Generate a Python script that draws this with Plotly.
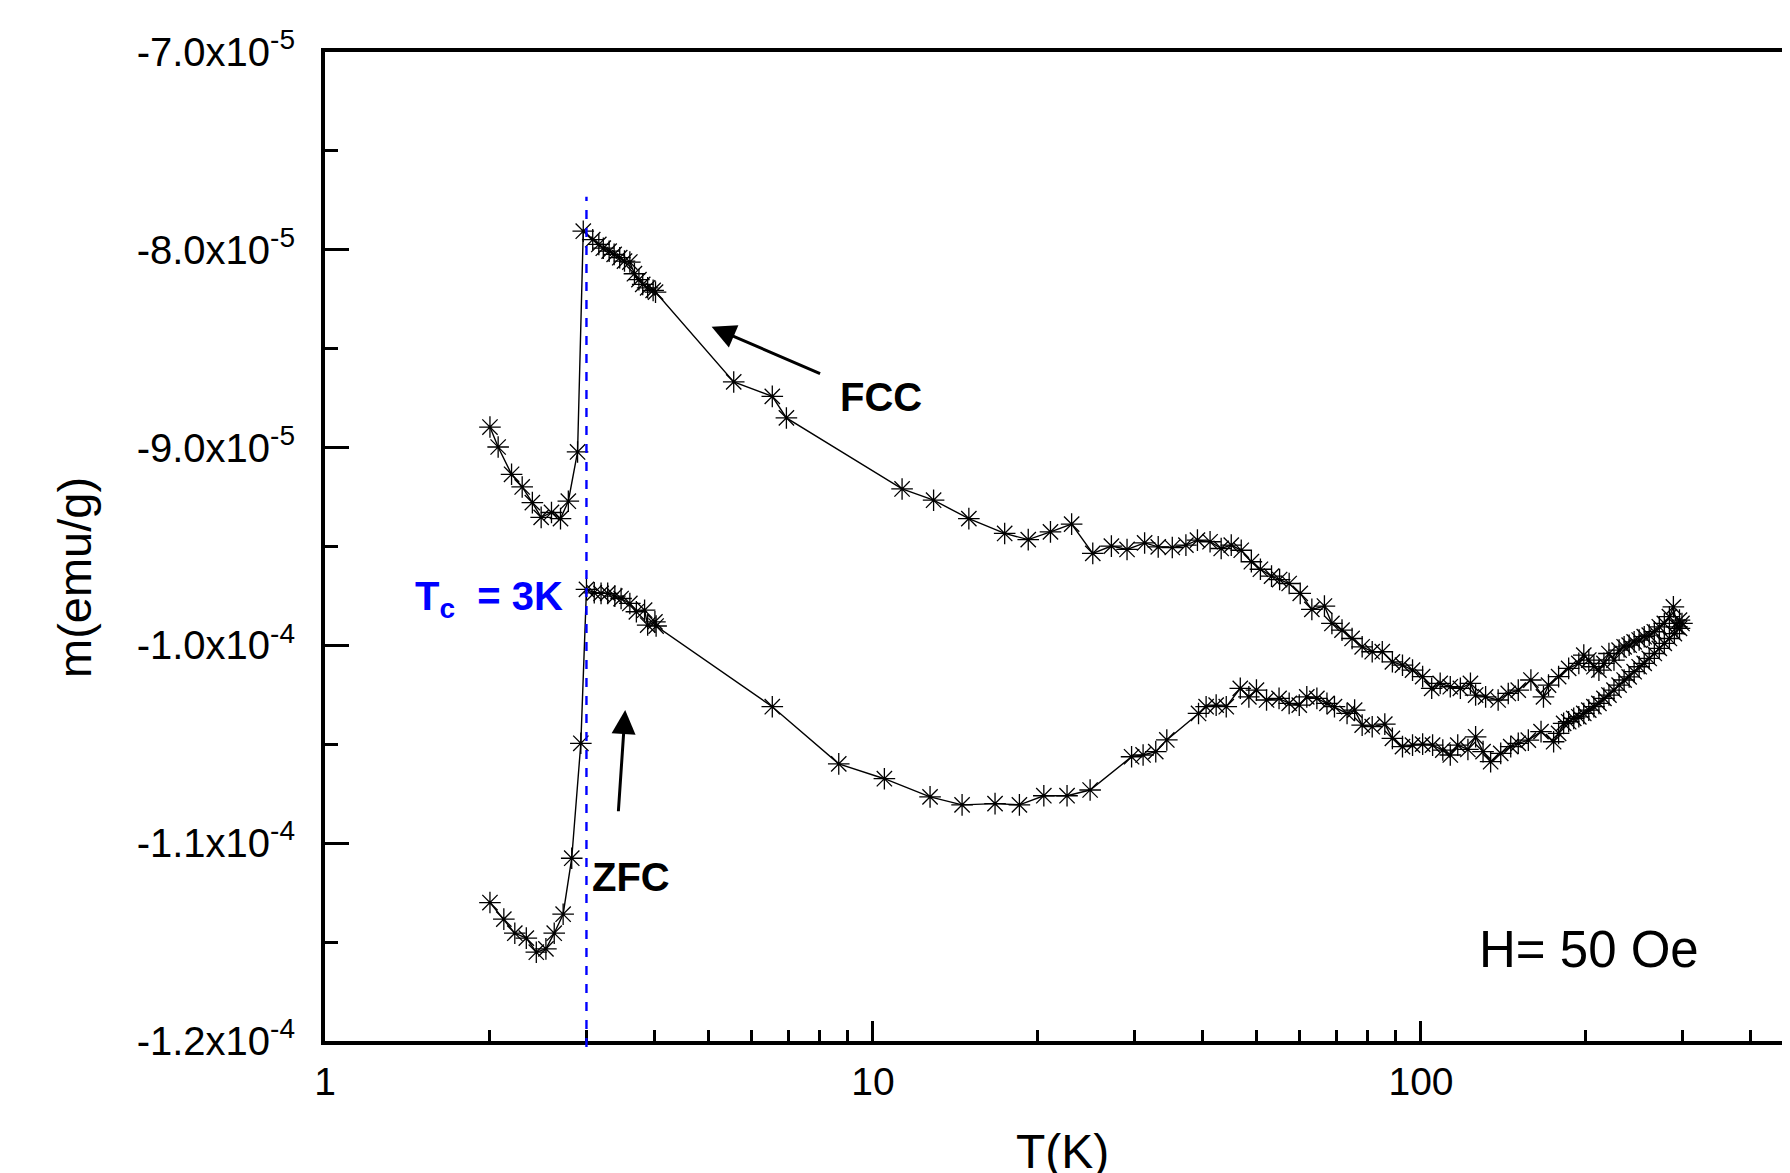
import plotly.graph_objects as go

# ---------------- data ----------------
fc_T = [2.00, 2.07, 2.19, 2.29, 2.39, 2.48, 2.59, 2.69, 2.78, 2.89, 2.96,
        3.08, 3.16, 3.22, 3.30, 3.37, 3.45, 3.52, 3.60, 3.67, 3.74, 3.80, 3.88, 3.97, 4.01,
        5.57, 6.55, 6.95, 11.3, 12.9, 14.96, 17.39, 19.2, 21.08, 23.04, 25.18, 27.23, 29.08,
        31.31, 33.15, 35.17, 37.24, 39.09, 41.22, 43.19, 45.06, 46.99, 49.03, 50.93, 53.37,
        55.21, 57.47, 60.21, 63.22, 66.65, 68.78, 71.76, 74.86, 78.10, 81.47, 85.00, 88.68,
        92.52, 96.51, 100.7, 104.6, 108.4, 113.1, 118.0, 123.1, 125.8, 131.2, 138.3, 144.3,
        150.5, 158.7, 167.3, 170.9, 178.3, 186.0, 194.1, 198.2, 202.4, 206.8, 211.2, 215.7,
        220.3, 225.0, 229.9, 234.8, 239.8, 244.9, 250.1, 255.5, 260.9, 266.6, 272.2, 278.0,
        284.0, 288.8, 293.2, 296.3]
fc_m = [-8.896, -8.997, -9.135, -9.199, -9.278, -9.353, -9.328, -9.359, -9.271, -9.022, -7.906,
        -7.949, -7.973, -7.992, -8.007, -8.023, -8.040, -8.057, -8.062, -8.121, -8.151, -8.175, -8.192, -8.205, -8.214,
        -8.668, -8.741, -8.850, -9.209, -9.266, -9.359, -9.434, -9.465, -9.426, -9.387, -9.535, -9.498, -9.515,
        -9.482, -9.502, -9.505, -9.493, -9.468, -9.476, -9.510, -9.493, -9.519, -9.577, -9.615, -9.650,
        -9.667, -9.687, -9.737, -9.818, -9.801, -9.889, -9.923, -9.965, -10.007, -10.032, -10.032, -10.083,
        -10.100, -10.125, -10.158, -10.217, -10.192, -10.209, -10.217, -10.192, -10.251, -10.260, -10.276, -10.243,
        -10.226, -10.175, -10.260, -10.201, -10.158, -10.116, -10.091, -10.049, -10.074, -10.108, -10.125, -10.091,
        -10.041, -10.074, -10.024, -10.007, -9.999, -9.982, -9.973, -9.956, -9.948, -9.931, -9.906, -9.889,
        -9.855, -9.805, -9.906, -9.872]

zfc_T = [2.00, 2.12, 2.22, 2.33, 2.43, 2.53, 2.62, 2.72, 2.82, 2.93, 3.00,
         3.10, 3.19, 3.28, 3.38, 3.47, 3.60, 3.70, 3.83, 3.88, 4.00, 4.02,
         6.55, 8.66, 10.49, 12.71, 14.54, 16.7, 18.5, 20.5, 22.6, 24.9,
         29.64, 31.11, 32.81, 34.37, 39.27, 40.54, 42.29, 44.12, 46.80, 48.52, 50.09, 52.26,
         55.08, 57.47, 59.96, 61.89, 64.57, 67.36, 69.52, 73.30, 75.67, 78.10, 81.47, 85.90,
         88.68, 92.52, 96.51, 100.7, 105.0, 109.6, 113.1, 116.7, 121.8, 125.8, 129.8, 134.0,
         139.8, 145.8, 150.5, 157.0, 165.6, 174.6, 178.3, 182.1, 186.0, 190.0, 194.1, 198.2,
         202.4, 206.8, 211.2, 215.7, 220.3, 225.0, 229.9, 234.8, 239.8, 244.9, 250.1, 255.5,
         260.9, 266.6, 272.2, 278.0, 284.0, 290.0, 296.3, 299.4]
zfc_m = [-11.300, -11.384, -11.455, -11.480, -11.551, -11.534, -11.455, -11.359, -11.076, -10.495, -9.717,
         -9.734, -9.737, -9.737, -9.751, -9.763, -9.788, -9.830, -9.822, -9.897, -9.881, -9.902,
         -10.310, -10.599, -10.674, -10.766, -10.806, -10.800, -10.806, -10.760, -10.760, -10.731,
         -10.563, -10.554, -10.537, -10.478, -10.344, -10.310, -10.302, -10.310, -10.217, -10.260, -10.226, -10.276,
         -10.268, -10.293, -10.302, -10.260, -10.268, -10.293, -10.310, -10.344, -10.327, -10.403, -10.411, -10.398,
         -10.470, -10.512, -10.504, -10.499, -10.504, -10.529, -10.554, -10.504, -10.526, -10.462, -10.537, -10.588,
         -10.546, -10.512, -10.495, -10.479, -10.436, -10.487, -10.445, -10.394, -10.386, -10.369, -10.361, -10.344,
         -10.327, -10.310, -10.293, -10.268, -10.251, -10.226, -10.201, -10.175, -10.159, -10.133, -10.108, -10.091,
         -10.066, -10.041, -10.015, -9.990, -9.965, -9.940, -9.914, -9.889]

scale = 1e-5
y_tickvals = [-7.0e-5, -8.0e-5, -9.0e-5, -1.0e-4, -1.1e-4, -1.2e-4]
y_ticktext = ["-7.0x10<sup>-5</sup>", "-8.0x10<sup>-5</sup>", "-9.0x10<sup>-5</sup>",
              "-1.0x10<sup>-4</sup>", "-1.1x10<sup>-4</sup>", "-1.2x10<sup>-4</sup>"]
y_minor = [-7.5e-5, -8.5e-5, -9.5e-5, -1.05e-4, -1.15e-4]
x_tickvals = [1, 10, 100]
x_ticktext = ["1", "10", "100"]
x_minor = [2, 3, 4, 5, 6, 7, 8, 9, 20, 30, 40, 50, 60, 70, 80, 90, 200, 300, 400]
Tc = 3.0

# ---------------- layout geometry ----------------
OFF = 8                       # default body margin of the html page
W, H = 1790 - OFF, 1173 - OFF
L, R, T, B = 325 - OFF, 0, 52 - OFF, 1173 - 1041
PW, PH = W - L - R, H - T - B
FONT = "Liberation Sans, Arial, Helvetica, sans-serif"


def px(xs):  # screen pixel -> paper
    return (xs - OFF - L) / PW


def py(ys):
    return (H - B - (ys - OFF)) / PH


fig = go.Figure()
for xs, ys in [(fc_T, fc_m), (zfc_T, zfc_m)]:
    fig.add_trace(go.Scatter(
        x=xs, y=[v * scale for v in ys], mode="lines+markers",
        line=dict(color="black", width=1.4),
        marker=dict(symbol="asterisk-open", size=18, color="black",
                    line=dict(color="black", width=1.3)),
        showlegend=False, cliponaxis=False))

# Tc dashed line
fig.add_shape(type="line", xref="x", yref="paper", x0=Tc, x1=Tc, y0=-0.006, y1=0.8536,
              line=dict(color="#0000ff", width=2.4, dash="dash"))

ann = []
ann.append(dict(text="<b>FCC</b>", xref="paper", yref="paper", x=px(838), y=py(397),
                xanchor="left", yanchor="middle", showarrow=False,
                font=dict(size=40, color="black", family=FONT)))
ann.append(dict(text="<b>ZFC</b>", xref="paper", yref="paper", x=px(590), y=py(877),
                xanchor="left", yanchor="middle", showarrow=False,
                font=dict(size=40, color="black", family=FONT)))
ann.append(dict(text="<b>T<sub>c</sub>  = 3K</b>", xref="paper", yref="paper", x=px(565), y=py(599),
                xanchor="right", yanchor="middle", showarrow=False,
                font=dict(size=40, color="#0000ff", family=FONT)))
ann.append(dict(text="H= 50 Oe", xref="paper", yref="paper", x=px(1477), y=py(949),
                xanchor="left", yanchor="middle", showarrow=False,
                font=dict(size=51, color="black", family=FONT)))
# arrows
ann.append(dict(text="", x=0.7055, y=-8.3896e-5, xref="x", yref="y",
                ax=0.9062, ay=-8.6296e-5, axref="x", ayref="y",
                showarrow=True, arrowhead=2, arrowsize=1.6, arrowwidth=3, arrowcolor="black"))
ann.append(dict(text="", x=0.5478, y=-10.327e-5, xref="x", yref="y",
                ax=0.5352, ay=-10.846e-5, axref="x", ayref="y",
                showarrow=True, arrowhead=2, arrowsize=1.6, arrowwidth=3, arrowcolor="black"))
# axis titles
ann.append(dict(text="T(K)", xref="paper", yref="paper", x=px(1062), y=py(1151),
                xanchor="center", yanchor="middle", showarrow=False,
                font=dict(size=48, color="black", family=FONT)))
ann.append(dict(text="m(emu/g)", xref="paper", yref="paper", x=px(74), y=py(578),
                xanchor="center", yanchor="middle", showarrow=False, textangle=-90,
                font=dict(size=47, color="black", family=FONT)))

fig.update_layout(
    width=W, height=H, margin=dict(l=L, r=R, t=T, b=B, pad=0),
    paper_bgcolor="white", plot_bgcolor="white",
    annotations=ann,
    font=dict(family=FONT, color="black"),
    xaxis=dict(type="log", range=[0, 2.6734], showgrid=False, zeroline=False,
               showline=True, linecolor="black", linewidth=4, mirror=True,
               tickmode="array", tickvals=x_tickvals, ticktext=x_ticktext,
               ticks="inside", ticklen=20, tickwidth=3, tickcolor="black",
               ticklabelstandoff=3,
               tickfont=dict(size=39, family=FONT, color="black"),
               minor=dict(tickmode="array", tickvals=x_minor, ticks="inside",
                          ticklen=11, tickwidth=3, tickcolor="black", showgrid=False)),
    yaxis=dict(range=[-1.2e-4, -7.0e-5], showgrid=False, zeroline=False,
               showline=True, linecolor="black", linewidth=4, mirror=False,
               tickmode="array", tickvals=y_tickvals, ticktext=y_ticktext,
               ticks="inside", ticklen=24, tickwidth=3, tickcolor="black",
               ticklabelstandoff=18,
               tickfont=dict(size=40, family=FONT, color="black"),
               minor=dict(tickmode="array", tickvals=y_minor, ticks="inside",
                          ticklen=13, tickwidth=3, tickcolor="black", showgrid=False)),
)

fig.write_html("out.html")
